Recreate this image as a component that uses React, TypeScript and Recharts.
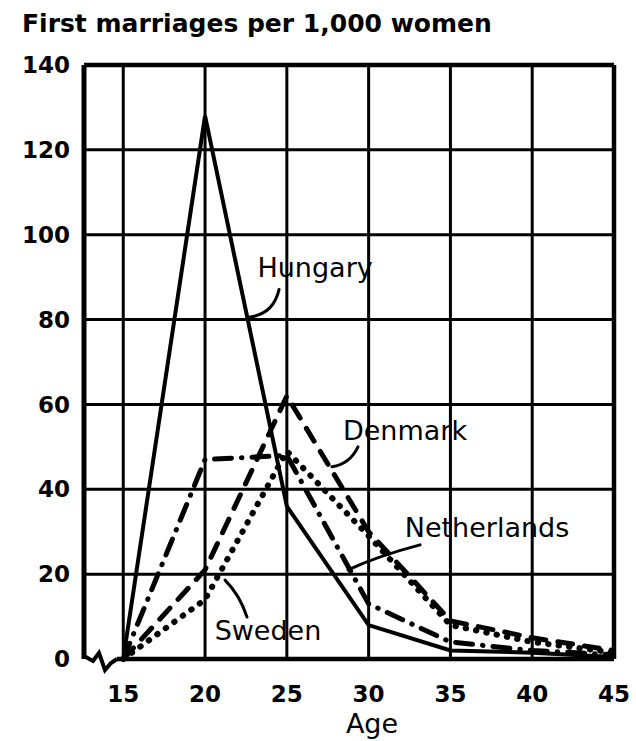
import React from "react";
import {
  LineChart,
  Line,
  XAxis,
  YAxis,
  CartesianGrid,
  ReferenceLine,
  ReferenceDot,
} from "recharts";

// ages on the x axis
const ages = [15, 20, 25, 30, 35, 40, 45];
const yTicks = [0, 20, 40, 60, 80, 100, 120, 140];

// first marriages per 1,000 women
const hungary = [0, 128, 36, 8, 2, 1.5, 0.5];
const denmark = [0, 21, 62, 30, 9, 5, 2];
const netherlands = [0, 47, 48, 13, 4, 2, 1];
const sweden = [0, 14, 49, 29, 8, 4, 1.5];

const data = ages.map((age, i) => ({
  age,
  hungary: hungary[i],
  denmark: denmark[i],
  netherlands: netherlands[i],
  sweden: sweden[i],
}));

const FONT = "'DejaVu Sans', Verdana, sans-serif";

// callout text with a small curved leader pointing at (cx, cy)
function callout(text: string, tx: number, ty: number, path: string) {
  return (props: any) => {
    const { cx, cy } = props;
    if (cx == null || cy == null) return <g />;
    return (
      <g>
        <path
          d={path}
          transform={`translate(${cx},${cy})`}
          fill="none"
          stroke="#000"
          strokeWidth={3}
          strokeLinecap="round"
        />
        <text
          x={cx + tx}
          y={cy + ty}
          textAnchor="middle"
          fontFamily={FONT}
          fontSize={27}
          fill="#000"
        >
          {text}
        </text>
      </g>
    );
  };
}

// axis break on the bottom left
const axisBreak = (props: any) => {
  const { cx, cy } = props;
  if (cx == null || cy == null) return <g />;
  return (
    <path
      d="M0,-3 L9,2 L15,-6 L21,11 L27,4 L33,0"
      transform={`translate(${cx},${cy})`}
      fill="none"
      stroke="#000"
      strokeWidth={4}
      strokeLinejoin="miter"
    />
  );
};

export default function App() {
  return (
    <div
      style={{
        position: "absolute",
        left: 0,
        top: 0,
        width: 636,
        height: 741,
        background: "#fff",
      }}
    >
      <LineChart
        width={636}
        height={741}
        data={data}
        margin={{ top: 65, right: 22, bottom: 0, left: 0 }}
      >
        <CartesianGrid
          stroke="#000"
          strokeWidth={3}
          horizontalValues={[20, 40, 60, 80, 100, 120]}
          verticalValues={[15, 20, 25, 30, 35, 40]}
        />
        <XAxis
          dataKey="age"
          type="number"
          domain={[12.6, 45]}
          ticks={ages}
          interval={0}
          allowDataOverflow
          axisLine={false}
          tickLine={false}
          tickSize={0}
          tickMargin={27}
          height={82}
          tick={{ fontFamily: FONT, fontWeight: 700, fontSize: 23, fill: "#000" }}
        />
        <YAxis
          type="number"
          domain={[0, 140]}
          ticks={yTicks}
          interval={0}
          width={84}
          axisLine={{ stroke: "#000", strokeWidth: 5 }}
          tickLine={false}
          tickSize={0}
          tickMargin={14}
          tick={{ fontFamily: FONT, fontWeight: 700, fontSize: 23, fill: "#000" }}
        />
        <ReferenceLine y={140} stroke="#000" strokeWidth={4.5} />
        <ReferenceLine x={45} stroke="#000" strokeWidth={4.5} />
        <ReferenceLine
          segment={[
            { x: 14.6, y: 0 },
            { x: 45, y: 0 },
          ]}
          stroke="#000"
          strokeWidth={4.5}
        />
        <ReferenceDot x={12.6} y={0} r={0} shape={axisBreak} />

        <Line
          type="linear"
          dataKey="hungary"
          stroke="#000"
          strokeWidth={4}
          dot={false}
          isAnimationActive={false}
        />
        <Line
          type="linear"
          dataKey="denmark"
          stroke="#000"
          strokeWidth={5}
          strokeDasharray="15 12"
          strokeLinecap="round"
          dot={false}
          isAnimationActive={false}
        />
        <Line
          type="linear"
          dataKey="netherlands"
          stroke="#000"
          strokeWidth={5}
          strokeDasharray="17 10 0.5 10"
          strokeLinecap="round"
          dot={false}
          isAnimationActive={false}
        />
        <Line
          type="linear"
          dataKey="sweden"
          stroke="#000"
          strokeWidth={6}
          strokeDasharray="0.5 10"
          strokeLinecap="round"
          dot={false}
          isAnimationActive={false}
        />

        <ReferenceDot
          x={22.57}
          y={80.5}
          r={0}
          shape={callout("Hungary", 68, -40, "M32,-28 Q26,-2 0,0")}
        />
        <ReferenceDot
          x={27.76}
          y={45.3}
          r={0}
          shape={callout("Denmark", 73, -27, "M26,-20 Q18,-3 0,0")}
        />
        <ReferenceDot
          x={28.74}
          y={21}
          r={0}
          shape={callout("Netherlands", 139, -33, "M72,-25 Q30,-14 0,0")}
        />
        <ReferenceDot
          x={21.22}
          y={18.6}
          r={0}
          shape={callout("Sweden", 43, 60, "M22,37 Q15,15 0,0")}
        />
      </LineChart>
      <svg
        width={636}
        height={741}
        style={{ position: "absolute", left: 0, top: 0, pointerEvents: "none" }}
      >
        <text x={22} y={32} fontFamily={FONT} fontWeight={700} fontSize={25} fill="#000">
          First marriages per 1,000 women
        </text>
        <text
          x={372}
          y={733}
          textAnchor="middle"
          fontFamily={FONT}
          fontSize={27}
          fill="#000"
        >
          Age
        </text>
      </svg>
    </div>
  );
}
